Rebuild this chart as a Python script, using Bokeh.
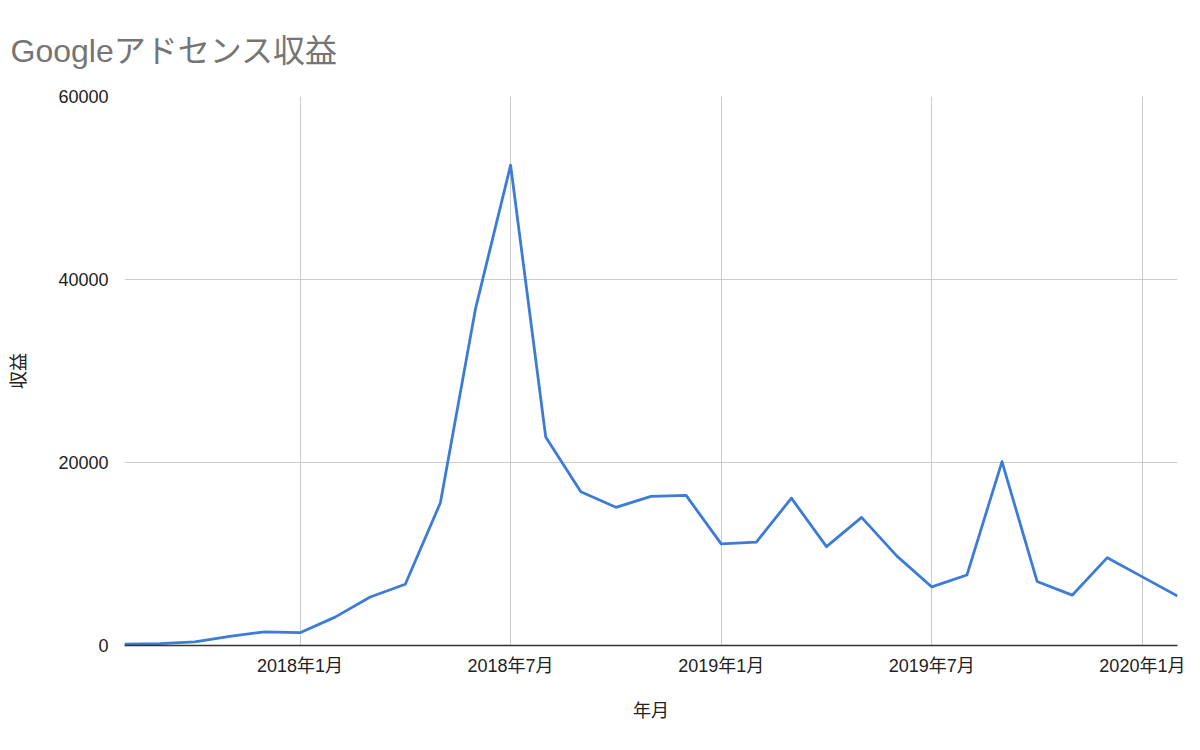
from bokeh.plotting import figure
from bokeh.models import FixedTicker, Title
from bokeh.embed import file_html
from bokeh.resources import INLINE

# Monthly AdSense revenue, Aug 2017 – Feb 2020
months = [
    "2017-08", "2017-09", "2017-10", "2017-11", "2017-12",
    "2018-01", "2018-02", "2018-03", "2018-04", "2018-05", "2018-06",
    "2018-07", "2018-08", "2018-09", "2018-10", "2018-11", "2018-12",
    "2019-01", "2019-02", "2019-03", "2019-04", "2019-05", "2019-06",
    "2019-07", "2019-08", "2019-09", "2019-10", "2019-11", "2019-12",
    "2020-01", "2020-02",
]
revenue = [
    150, 200, 400, 1000, 1500,
    1400, 3100, 5300, 6700, 15600, 36800,
    52500, 22800, 16800, 15100, 16300, 16400,
    11100, 11300, 16100, 10800, 14000, 9800,
    6400, 7700, 20100, 7000, 5500, 9600,
    7500, 5400,
]
y_ticks = [0, 20000, 40000, 60000]

x = list(range(len(months)))

# label January and July of each year
x_ticks = []
x_labels = {}
for i, m in enumerate(months):
    yr, mo = m.split("-")
    if int(mo) in (1, 7):
        x_ticks.append(i)
        x_labels[i] = f"{yr}年{int(mo)}月"

FONT = "'Liberation Sans', 'Noto Sans CJK JP', sans-serif"

p = figure(
    width=1200, height=750,
    x_range=(0, len(months) - 1), y_range=(0, 60000),
    output_backend="svg", toolbar_location=None,
    min_border_left=124, min_border_right=23,
    min_border_top=96, min_border_bottom=105,
    outline_line_color=None,
)

title = Title(
    text="Googleアドセンス収益", align="left", offset=-114, standoff=56,
    text_font=FONT, text_font_size="32px", text_color="#757575",
    text_font_style="normal",
)
p.add_layout(title, "above")

p.line(x, revenue, line_color="#3d7bd9", line_width=2.8, line_join="round")

# axes
p.xaxis.ticker = FixedTicker(ticks=x_ticks)
p.xaxis.major_label_overrides = x_labels
p.yaxis.ticker = FixedTicker(ticks=y_ticks)

for ax in (p.xaxis[0], p.yaxis[0]):
    ax.major_tick_line_color = None
    ax.minor_tick_line_color = None
    ax.major_label_text_font = FONT
    ax.major_label_text_font_size = "18px"
    ax.major_label_text_color = "#222222"
    ax.axis_label_text_font = FONT
    ax.axis_label_text_font_size = "18px"
    ax.axis_label_text_font_style = "normal"
    ax.axis_label_text_color = "#222222"

p.yaxis.axis_line_color = None
p.yaxis.axis_label = "収益"
p.yaxis.major_label_standoff = 10
p.yaxis.axis_label_standoff = 26

p.xaxis.axis_line_color = "#333333"
p.xaxis.axis_line_width = 1.5
p.xaxis.axis_label = "年月"
p.xaxis.major_label_standoff = 4
p.xaxis.axis_label_standoff = 22

# gridlines
p.xgrid.grid_line_color = "#cccccc"
p.ygrid.grid_line_color = "#cccccc"
p.xgrid.grid_line_width = 1
p.ygrid.grid_line_width = 1

open("out.html", "w").write(file_html(p, INLINE))
